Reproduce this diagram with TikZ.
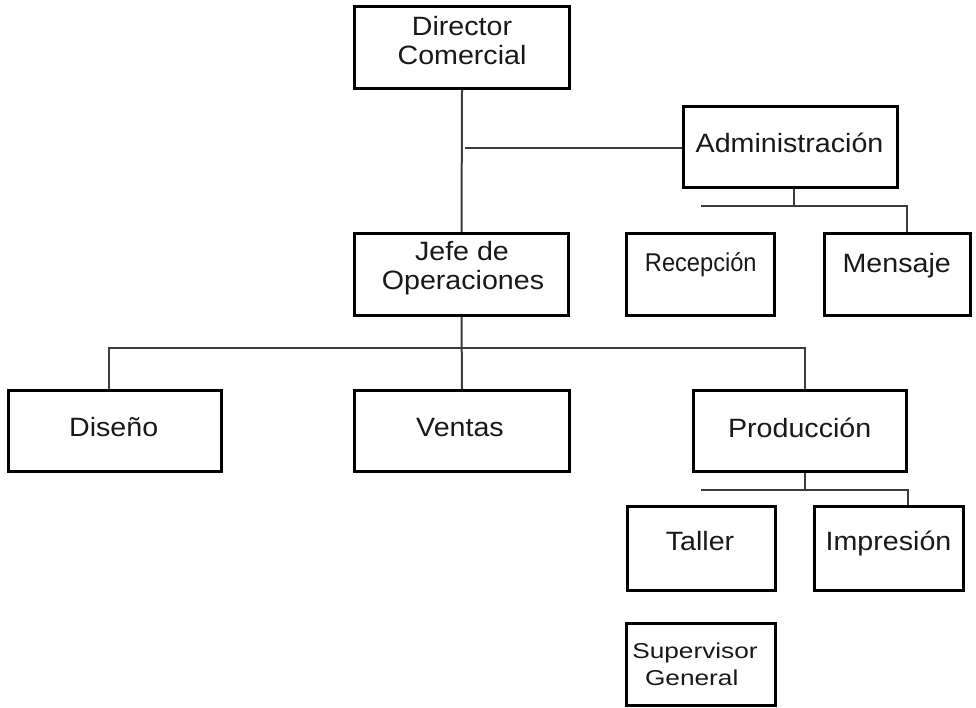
\documentclass[tikz,border=0pt]{standalone}
\usepackage{fontspec}
\setmainfont[FakeStretch=1.08]{Liberation Sans}
\newfontfamily\narrowfont[FakeStretch=0.92]{Liberation Sans}
\newfontfamily\widefont[FakeStretch=1.22]{Liberation Sans}
\definecolor{conncol}{RGB}{60,60,60}
\definecolor{txtcol}{RGB}{25,25,25}
\begin{document}
\begin{tikzpicture}[x=1pt,y=-1pt,
  box/.style={draw=black,line width=3pt,inner sep=0pt,fill=white},
  conn/.style={draw=conncol,line width=2pt},
  lbl/.style={anchor=base,inner sep=0pt,text=txtcol,font=\fontsize{26.5}{29}\selectfont},
  lblnarrow/.style={lbl,font=\fontsize{25.7}{29}\narrowfont},
  lblsmall/.style={lbl,font=\fontsize{21.5}{26}\widefont}]
\useasboundingbox (0,0) rectangle (976,708);
\fill[white] (0,0) rectangle (976,708);

% boxes
\node[box,minimum width=215pt,minimum height=82pt] (dir) at (462,47.5) {};
\node[box,minimum width=214pt,minimum height=81pt] (admin) at (790.5,147) {};
\node[box,minimum width=214pt,minimum height=82pt] (jefe) at (461.5,274.5) {};
\node[box,minimum width=148pt,minimum height=82pt] (recep) at (700.5,274.5) {};
\node[box,minimum width=146pt,minimum height=82pt] (mens) at (897.5,274.5) {};
\node[box,minimum width=213pt,minimum height=81pt] (diseno) at (115,431) {};
\node[box,minimum width=215pt,minimum height=81pt] (ventas) at (462,431) {};
\node[box,minimum width=213pt,minimum height=81pt] (prod) at (800,431) {};
\node[box,minimum width=148pt,minimum height=84pt] (taller) at (701.5,548.5) {};
\node[box,minimum width=149pt,minimum height=84pt] (impr) at (889,548.5) {};
\node[box,minimum width=149pt,minimum height=82pt] (super) at (701,664.5) {};

% texts
\node[lbl] (dirA) at (462,36) {Director};
\node[lbl] (dirB) at (462,65) {Comercial};
\node[lbl] (adminT) at (789.5,153) {Administración};
\node[lbl] (jefeA) at (462,261) {Jefe de};
\node[lbl] (jefeB) at (463,290) {Operaciones};
\node[lblnarrow] (recepT) at (700.8,272) {Recepción};
\node[lbl] (mensT) at (896.7,273) {Mensaje};
\node[lbl] (disenoT) at (113.7,436) {Diseño};
\node[lbl] (ventasT) at (460,436) {Ventas};
\node[lbl] (prodT) at (799.7,437) {Producción};
\node[lbl] (tallerT) at (700,550) {Taller};
\node[lbl] (imprT) at (888.5,550) {Impresión};
\node[lblsmall] (superA) at (695,658) {Supervisor};
\node[lblsmall] (superB) at (691.7,685) {General};

% connectors
\draw[conn] (dir.south) -- (jefe.north);
\coordinate (astart) at (465,148);
\draw[conn] (astart) -- (astart -| admin.west);

\coordinate (ajoin) at (794,206);
\coordinate (abusL) at (701,206);
\coordinate (abusR) at (907,206);
\draw[conn] (ajoin |- admin.south) -- (ajoin);
\draw[conn] (abusL) -- (abusR) -- (abusR |- mens.north);

\draw[conn] (jefe.south) -- (ventas.north);
\coordinate (jbusL) at (109,348);
\coordinate (jbusR) at (805,348);
\draw[conn] (jbusL |- diseno.north) -- (jbusL) -- (jbusR) -- (jbusR |- prod.north);

\coordinate (pjoin) at (805,490);
\coordinate (pbusL) at (701,490);
\coordinate (pbusR) at (908,490);
\draw[conn] (pjoin |- prod.south) -- (pjoin);
\draw[conn] (pbusL) -- (pbusR) -- (pbusR |- impr.north);
\end{tikzpicture}
\end{document}
